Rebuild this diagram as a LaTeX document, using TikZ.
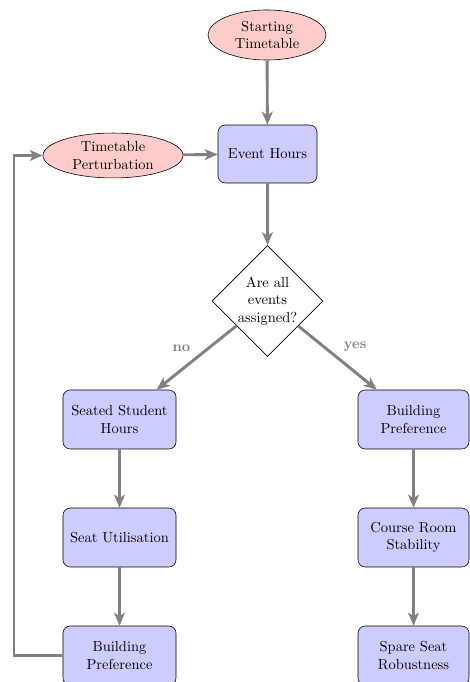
\documentclass[tikz,border=0pt]{standalone}
\usetikzlibrary{shapes.geometric,arrows.meta,calc}
\begin{document}
\begin{tikzpicture}[x=0.69pt,y=-0.69pt,
  blockbox/.style={rectangle, draw, fill=blue!20, rounded corners=5pt, align=center, minimum height=40.7pt, inner sep=2pt},
  cloudnode/.style={ellipse, draw, fill=red!20, align=center, inner sep=1pt},
  decision/.style={diamond, draw, align=center, minimum width=76.6pt, minimum height=76.6pt, inner sep=0pt},
  flowline/.style={draw=gray, line width=2pt, -{Stealth[length=9pt,width=7.5pt,inset=2.5pt]}},
  lbl/.style={text=gray, font=\bfseries}
]
\useasboundingbox (0,0) rectangle (469,682);
\node[cloudnode, minimum width=81.4pt, minimum height=34.5pt] (start) at (267,35) {Starting\\Timetable};
\node[blockbox, minimum width=68.3pt, minimum height=40pt] (event) at (267.5,154) {Event Hours};
\node[cloudnode, minimum width=96.6pt, minimum height=31pt] (pert) at (113,155.5) {Timetable\\Perturbation};
\node[decision] (decide) at (267.5,301) {Are all\\events\\assigned?};
\node[blockbox, minimum width=78pt] (l1) at (119.5,419.5) {Seated Student\\Hours};
\node[blockbox, minimum width=78pt] (l2) at (119.5,537.5) {Seat Utilisation};
\node[blockbox, minimum width=78pt] (l3) at (119.5,655.5) {Building\\Preference};
\node[blockbox, minimum width=76.6pt] (r1) at (413.5,419.5) {Building\\Preference};
\node[blockbox, minimum width=76.6pt] (r2) at (413.5,537.5) {Course Room\\Stability};
\node[blockbox, minimum width=76.6pt] (r3) at (413.5,655.5) {Spare Seat\\Robustness};
\coordinate (fb) at (14,0);
\draw[flowline] (start) -- (event);
\draw[flowline] (pert) -- (event);
\draw[flowline] (event) -- (decide);
\draw[flowline] (decide) -- node[lbl, pos=0.5, above left=0pt] {no} (l1);
\draw[flowline] (decide) -- node[lbl, pos=0.5, above right=0pt] {yes} (r1);
\draw[flowline] (l1) -- (l2);
\draw[flowline] (l2) -- (l3);
\draw[flowline] (r1) -- (r2);
\draw[flowline] (r2) -- (r3);
\draw[flowline] (l3.west) -- (l3.west -| fb) |- (pert.west);
\end{tikzpicture}
\end{document}
